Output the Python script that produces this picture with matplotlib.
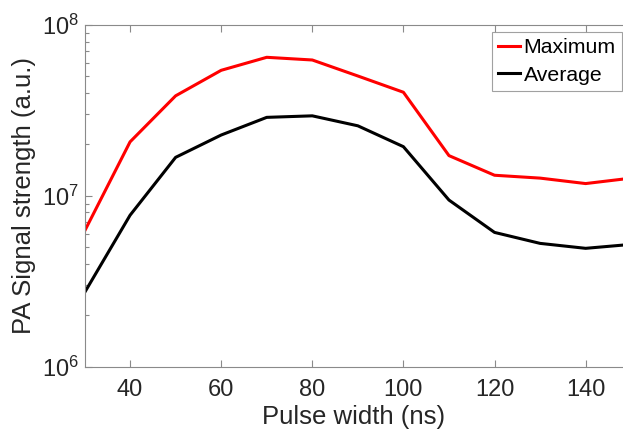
import numpy as np
import matplotlib.pyplot as plt

plt.rcParams['font.family'] = ['Liberation Sans', 'DejaVu Sans']
plt.rcParams['mathtext.fontset'] = 'custom'
plt.rcParams['mathtext.rm'] = 'Liberation Sans'
plt.rcParams['mathtext.it'] = 'Liberation Sans:italic'
plt.rcParams['mathtext.bf'] = 'Liberation Sans:bold'

# pulse width (ns) and signal strength
pulse_width = [30, 40, 50, 60, 70, 80, 90, 100, 110, 120, 130, 140, 150]
maximum = [6.2e6, 2.07e7, 3.85e7, 5.43e7, 6.47e7, 6.24e7, 5.03e7, 4.04e7,
           1.72e7, 1.32e7, 1.27e7, 1.18e7, 1.27e7]
average = [2.71e6, 7.7e6, 1.68e7, 2.27e7, 2.88e7, 2.94e7, 2.57e7, 1.94e7,
           9.45e6, 6.11e6, 5.27e6, 4.93e6, 5.2e6]

text_col = '#262626'
axis_col = '#8a8a8a'

fig = plt.figure(figsize=(6.23, 4.30), dpi=100)
ax = fig.add_axes([84.5/623, 1 - 366.7/430, 1 - 84.5/623, (366.7 - 25)/430])

ax.plot(pulse_width, maximum, color='#ff0000', lw=2.2, label='Maximum')
ax.plot(pulse_width, average, color='#000000', lw=2.2, label='Average')

ax.set_yscale('log')
ax.set_xlim(30, 148.2)  # right edge of the original is cropped
ax.set_ylim(1e6, 1e8)
ax.set_xticks([40, 60, 80, 100, 120, 140])

for side in ['left', 'top', 'bottom']:
    ax.spines[side].set_color(axis_col)
    ax.spines[side].set_linewidth(0.8)
ax.spines['right'].set_visible(False)

ax.tick_params(axis='both', which='both', direction='in', color=axis_col,
               labelcolor=text_col, labelsize=17, width=0.8)
ax.tick_params(axis='x', which='both', top=True, length=5, pad=9)
ax.tick_params(axis='y', which='major', length=5, pad=4)
ax.tick_params(axis='y', which='minor', length=3)
ax.tick_params(axis='y', which='both', right=False)

ax.set_xlabel('Pulse width (ns)', fontsize=18.5, color=text_col, labelpad=3)
ax.set_ylabel('PA Signal strength (a.u.)', fontsize=18.5, color=text_col, labelpad=4)

leg = ax.legend(loc='upper left', bbox_to_anchor=(491.7/623, 1 - 31.7/430),
                bbox_transform=fig.transFigure, fontsize=15.3, frameon=True,
                fancybox=False, handlelength=1.05, handletextpad=0.15,
                borderpad=0.3, labelspacing=0.4, borderaxespad=0)
leg.get_frame().set_edgecolor(axis_col)
leg.get_frame().set_linewidth(0.8)
for t in leg.get_texts():
    t.set_color('#000000')

fig.savefig('out.png', dpi=100)
